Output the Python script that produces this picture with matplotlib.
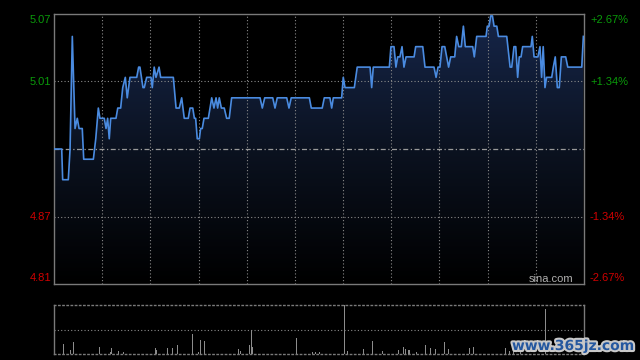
import numpy as np
import matplotlib
matplotlib.use('Agg')
import matplotlib.pyplot as plt
import matplotlib.patheffects as pe
from matplotlib.colors import LinearSegmentedColormap

plt.rcParams['font.family'] = ['Liberation Sans', 'DejaVu Sans']

# 分时价格（分钟, 价格）
prev_close = 4.94
minutes = [0, 4.8, 5.4, 8.9, 10.0, 11.4, 13.1, 14.5, 15.6, 17.6, 18.5, 24.5, 26.0, 27.6, 28.6,
           31.3, 32.4, 33.4, 34.4, 35.3, 38.6, 39.7, 41.5, 42.8, 44.4, 45.6, 47.3, 51.5, 52.7,
           53.5, 55.4, 56.2, 57.7, 60.4, 61.2, 62.4, 63.5, 65.4, 66.4, 74.3, 76.0, 78.0, 79.5,
           81.1, 83.6, 84.7, 86.4, 87.4, 88.2, 89.2, 90.5, 91.3, 92.3, 93.4, 96.1, 98.2, 99.6,
           100.9, 101.9, 102.9, 104.2, 106.0, 107.5, 109.1, 110.6, 128.3, 129.7, 131.2, 136.2,
           137.6, 139.0, 144.9, 146.3, 147.7, 159.0, 160.2, 167.0, 168.3, 171.8, 172.9, 173.9,
           179.1, 180.1, 181.2, 187.0, 188.8, 196.8, 197.8, 198.8, 208.8, 209.8, 211.7, 212.9,
           214.0, 215.4, 216.7, 217.9, 219.2, 224.2, 225.2, 229.6, 231.0, 236.6, 237.9, 239.1,
           240.3, 241.6, 243.3, 244.5, 245.7, 247.0, 249.5, 250.7, 252.0, 253.6, 254.9, 256.1,
           260.7, 261.7, 263.2, 269.0, 269.8, 270.9, 271.9, 273.0, 274.0, 275.7, 276.7, 281.9,
           284.0, 285.0, 286.4, 287.5, 288.7, 289.7, 290.8, 291.8, 297.0, 297.8, 298.9, 301.3,
           302.6, 303.6, 304.6, 305.7, 306.7, 309.9, 310.9, 312.1, 313.4, 314.6, 315.9, 318.6,
           319.9, 328.6, 329.6]
prices = [4.94, 4.94, 4.91, 4.91, 4.94, 5.05, 4.96, 4.97, 4.96, 4.96, 4.93, 4.93, 4.95, 4.98, 4.97,
          4.97, 4.96, 4.97, 4.95, 4.97, 4.97, 4.98, 4.98, 5.00, 5.01, 4.99, 5.01, 5.01, 5.02,
          5.02, 5.00, 5.00, 5.01, 5.01, 5.00, 5.02, 5.01, 5.02, 5.01, 5.01, 4.98, 4.98, 4.99,
          4.97, 4.97, 4.98, 4.98, 4.97, 4.97, 4.95, 4.95, 4.96, 4.96, 4.97, 4.97, 4.99, 4.98,
          4.99, 4.98, 4.99, 4.98, 4.98, 4.97, 4.97, 4.99, 4.99, 4.98, 4.99, 4.99,
          4.98, 4.99, 4.99, 4.98, 4.99, 4.99, 4.98, 4.98, 4.99, 4.99, 4.98, 4.99,
          4.99, 5.01, 5.00, 5.00, 5.02, 5.02, 5.00, 5.02, 5.02, 5.04, 5.04, 5.02,
          5.03, 5.03, 5.04, 5.02, 5.03, 5.03, 5.04, 5.04, 5.02, 5.02, 5.01, 5.02,
          5.02, 5.04, 5.04, 5.03, 5.02, 5.03, 5.03, 5.05, 5.04, 5.04, 5.06, 5.04,
          5.04, 5.03, 5.05, 5.05, 5.06, 5.06, 5.07, 5.07, 5.06, 5.06, 5.05, 5.05,
          5.02, 5.02, 5.04, 5.04, 5.01, 5.03, 5.03, 5.04, 5.04, 5.05, 5.03, 5.03,
          5.04, 5.01, 5.04, 5.00, 5.01, 5.01, 5.02, 5.03, 5.00, 5.00, 5.03, 5.03,
          5.02, 5.02, 5.05]

# 成交量（相对值）
vol_minutes = [5.8, 10.1, 12.0, 28.2, 35.1, 35.7, 40.0, 43.1, 63.1, 63.7, 70.5, 73.6, 76.8, 86.1,
               89.8, 91.1, 93.6, 114.7, 116.0, 121.6, 122.8, 123.5, 150.9, 160.8, 162.7, 165.6,
               180.7, 183.0, 192.6, 198.2, 204.4, 214.4, 217.5, 218.7, 220.6, 221.2, 225.6,
               231.2, 234.3, 237.4, 243.0, 245.5, 258.6, 261.1, 281.0, 283.5, 286.0, 290.3, 306.1]
vol_values = [20, 9, 24, 14, 5, 13, 7, 5, 13, 9, 13, 13, 18, 40,
              5, 28, 26, 11, 7, 18, 50, 14, 33, 5, 5, 5,
              100, 7, 11, 27, 7, 8, 14, 10, 9, 9, 5,
              19, 13, 10, 25, 11, 13, 15, 13, 6, 17, 10, 92]

left_labels = ['5.07', '5.01', '4.87', '4.81']
right_labels = ['+2.67%', '+1.34%', '-1.34%', '-2.67%']
label_y = [20, 82, 217, 278]
label_colors = ['#0a9a0a', '#0a9a0a', '#d00000', '#d00000']

W, H = 640, 360
fig = plt.figure(figsize=(6.4, 3.6), dpi=100, facecolor='black')

# 主图
ax = fig.add_axes([54 / W, 1 - 284 / H, 530 / W, 270 / H], facecolor='black')
ymax = prev_close * 1.0267
ymin = prev_close * (1 - 0.0267)
ax.set_xlim(0, 330)
ax.set_ylim(ymin, ymax)

# 渐变填充
cmap = LinearSegmentedColormap.from_list('fill', ['#000000', '#0b1220', '#16264a'])
grad = np.linspace(0, 1, 256).reshape(-1, 1)
poly = ax.fill_between(minutes, prices, ymin, color='none')
img = ax.imshow(grad, extent=[0, 330, ymin, ymax], origin='lower', aspect='auto',
                cmap=cmap, zorder=1)
img.set_clip_path(poly.get_paths()[0], transform=ax.transData)

grid_color = '#8a8a8a'
for t in range(30, 330, 30):
    ax.axvline(t, color=grid_color, lw=0.8, ls=(0, (1, 2)), zorder=2)
for v in (prev_close * 1.0134, prev_close * (1 - 0.0134)):
    ax.axhline(v, color=grid_color, lw=0.8, ls=(0, (1, 2)), zorder=2)
ax.axhline(prev_close, color='#9a9a9a', lw=0.9, ls=(0, (4, 2, 1, 2)), zorder=2)

ax.plot(minutes, prices, color='#4a8be0', lw=1.2, zorder=3)

for s in ax.spines.values():
    s.set_color('#7a7a7a')
    s.set_linewidth(1)
ax.set_xticks([])
ax.set_yticks([])

ax.text(573 / W, 1 - 279 / H, 'sina.com', transform=fig.transFigure, ha='right', va='center',
        color='#b0b0b0', fontsize=8)

for lab, rl, yy, c in zip(left_labels, right_labels, label_y, label_colors):
    fig.text(51 / W, 1 - yy / H, lab, ha='right', va='center', color=c, fontsize=8)
    fig.text(590 / W, 1 - yy / H, rl, ha='left', va='center', color=c, fontsize=8)

# 成交量
axv = fig.add_axes([54 / W, 1 - 354 / H, 530 / W, 49 / H], facecolor='black')
axv.set_xlim(0, 330)
axv.set_ylim(0, 100)
axv.bar(vol_minutes, vol_values, width=0.6, color='#8c8c8c', zorder=3)
axv.axhline(50, color=grid_color, lw=0.8, ls=(0, (1, 2)))
axv.spines['top'].set_linestyle((0, (1, 2)))
axv.spines['bottom'].set_linestyle((0, (1, 2)))
for s in axv.spines.values():
    s.set_color('#7a7a7a')
    s.set_linewidth(1)
axv.set_xticks([])
axv.set_yticks([])

# 水印
fig.text(573 / W, 1 - 346 / H, 'www.365jz.com', ha='center', va='center', color='#24579f',
         fontsize=10, fontweight='bold', family=['DejaVu Sans'],
         path_effects=[pe.withStroke(linewidth=3, foreground='#c8c8c8')])

fig.savefig('out.png', dpi=100, facecolor='black')
